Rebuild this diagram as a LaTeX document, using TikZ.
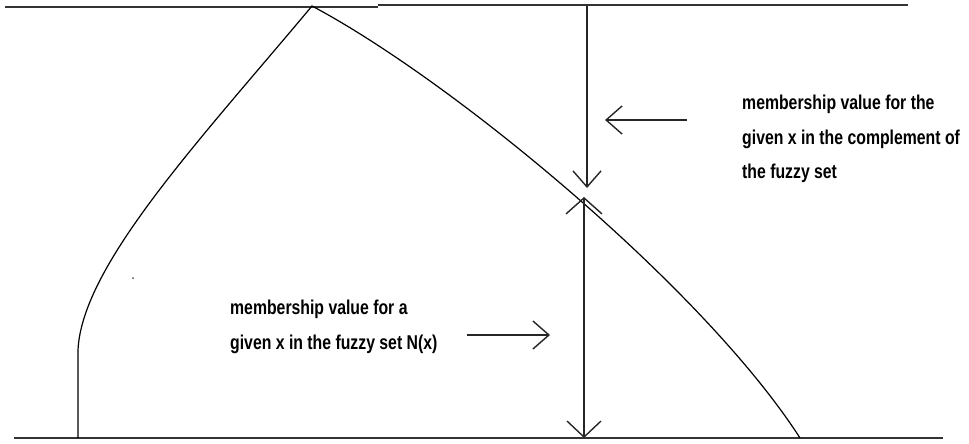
\documentclass[tikz,border=0pt]{standalone}
\usepackage{fontspec}
\newfontfamily\lblfont{Liberation Sans}[FakeStretch=0.79]
\usetikzlibrary{arrows.meta}
\begin{document}
\begin{tikzpicture}[x=1pt,y=-1pt,
  axisline/.style={line width=2pt,draw=black!80},
  curveline/.style={line width=1.2pt,draw=black},
  barb/.style={line width=1.4pt,draw=black!85,arrows={-Straight Barb[length=16pt,width=28pt,line width=1.4pt]}},
  lbl/.style={font={\lblfont\bfseries\fontsize{20}{34.5}\selectfont},align=left,inner sep=0pt,anchor=north west,text=black}]
\useasboundingbox (0,0) rectangle (969,444);
% axes
\coordinate (tl) at (5,7);
\coordinate (tm1) at (378,7);
\coordinate (tm2) at (378,5);
\coordinate (tr) at (908,5);
\coordinate (bl) at (14,438);
\coordinate (br) at (943,438);
\draw[axisline] (tl) -- (tm1);
\draw[axisline] (tm2) -- (tr);
\draw[axisline] (bl) -- (br);
% membership curve
\coordinate (foot) at (78,438);
\coordinate (knee) at (78,350);
\coordinate (apex) at (312,6);
\coordinate (end) at (800,438);
\draw[curveline] (foot) -- (knee) .. controls (82,265) and (200,140) .. (apex)
  .. controls (455,82) and (705,290) .. (end);
\fill[black!70] (133,278) circle (1pt);
% vertical measure
\coordinate (vtop) at (587,6);
\coordinate (vtip) at (587,188);
\coordinate (vlow) at (584,197);
\coordinate (vbot) at (584,438);
\draw[barb] (vtop) -- (vtip);
\draw[barb,arrows={Straight Barb[length=16pt,width=36pt,line width=1.4pt]-Straight Barb[length=16pt,width=34pt,line width=1.4pt]}] (vlow) -- (vbot);
% labels
\node[lbl] (comp) at (742,95) {membership value for the\\given x in the complement of\\the fuzzy set};
\node[lbl] (memb) at (230,300) {membership value for a\\given x in the fuzzy set N(x)};
% pointer arrows
\coordinate (la) at (687,120);
\coordinate (lb) at (605,120);
\coordinate (ra) at (467,335);
\coordinate (rb) at (550,335);
\draw[barb,line width=1.3pt] (la) -- (lb);
\draw[barb,line width=1.3pt] (ra) -- (rb);
\end{tikzpicture}
\end{document}
